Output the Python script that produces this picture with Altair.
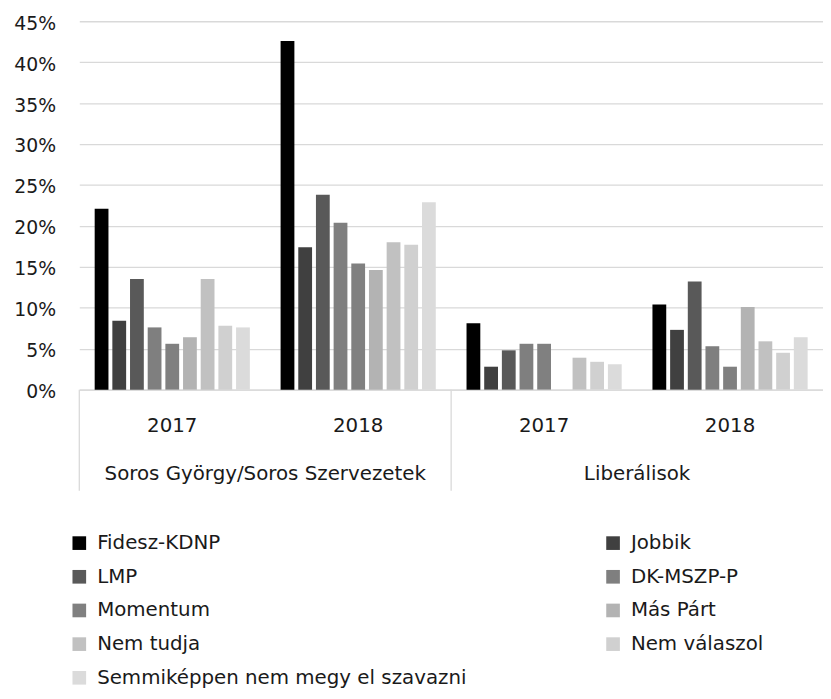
import altair as alt
import pandas as pd

series = ["Fidesz-KDNP", "Jobbik", "LMP", "DK-MSZP-P", "Momentum", "Más Párt",
          "Nem tudja", "Nem válaszol", "Semmiképpen nem megy el szavazni"]
colors = ["#000000", "#404040", "#595959", "#7f7f7f", "#808080", "#b3b3b3",
          "#c1c1c1", "#d0d0d0", "#dbdbdb"]

categories = ["Soros György/Soros Szervezetek", "Liberálisok"]
years = ["2017", "2018"]

soros_2017 = [22.1, 8.4, 13.5, 7.6, 5.6, 6.4, 13.5, 7.8, 7.6]
soros_2018 = [42.6, 17.4, 23.8, 20.4, 15.4, 14.6, 18.0, 17.7, 22.9]
lib_2017 = [8.1, 2.8, 4.8, 5.6, 5.6, None, 3.9, 3.4, 3.1]
lib_2018 = [10.4, 7.3, 13.2, 5.3, 2.8, 10.1, 5.9, 4.5, 6.4]

y_ticks = [0, 5, 10, 15, 20, 25, 30, 35, 40, 45]

blocks = [(categories[0], years[0], soros_2017), (categories[0], years[1], soros_2018),
          (categories[1], years[0], lib_2017), (categories[1], years[1], lib_2018)]
rows = []
grp_order = []
for cat, yr, vals in blocks:
    g = f"{cat}|{yr}"
    grp_order.append(g)
    for s, v in zip(series, vals):
        if v is not None:
            rows.append({"grp": g, "series": s, "value": v})
df = pd.DataFrame(rows)

cat_df = pd.DataFrame({"cat": categories, "pos": [0.5, 1.5]})
sep_df = pd.DataFrame({"sep": [0, 1]})

FONT = "DejaVu Sans"
GRID = "#d9d9d9"
W, H = 751, 372

bars = alt.Chart(df).mark_bar().encode(
    x=alt.X("grp:N", sort=grp_order, title=None,
            scale=alt.Scale(paddingInner=0, paddingOuter=0),
            axis=alt.Axis(labelExpr="split(datum.label, '|')[1]", labelAngle=0,
                          ticks=False, labelPadding=26, labelFont=FONT,
                          labelFontSize=20, labelColor="#1a1a1a",
                          domainColor=GRID, domainWidth=1.3, grid=False)),
    xOffset=alt.XOffset("series:N", sort=series,
                        scale=alt.Scale(paddingInner=0.22, paddingOuter=0.87)),
    y=alt.Y("value:Q", title=None,
            scale=alt.Scale(domain=[0, 45], nice=False),
            axis=alt.Axis(values=y_ticks, labelExpr="datum.value + '%'",
                          ticks=False, domain=False, labelPadding=24,
                          labelOffset=2,
                          labelFont=FONT, labelFontSize=19, labelColor="#1a1a1a",
                          gridColor=GRID, gridWidth=1.3)),
    color=alt.Color("series:N", sort=series,
                    scale=alt.Scale(domain=series, range=colors),
                    legend=alt.Legend(orient="none", legendX=-10, legendY=517,
                                      direction="horizontal",
                                      columns=2, columnPadding=137, rowPadding=14,
                                      symbolType="square", symbolSize=190,
                                      symbolStrokeWidth=0, labelOffset=8,
                                      labelFont=FONT, labelFontSize=20,
                                      labelColor="#1a1a1a", labelLimit=0,
                                      title=None, padding=0)),
)

cat_text = alt.Chart(cat_df).mark_text(
    font=FONT, fontSize=20, color="#1a1a1a", baseline="top", align="center"
).encode(
    x=alt.X("pos:Q", scale=alt.Scale(domain=[0, 2], nice=False), axis=None),
    y=alt.value(447),
    text="cat:N",
)

seps = alt.Chart(sep_df).mark_rule(color=GRID, strokeWidth=1.3).encode(
    x=alt.X("sep:Q", scale=alt.Scale(domain=[0, 2], nice=False), axis=None),
    y=alt.value(H),
    y2=alt.value(474),
)

chart = alt.layer(bars, seps, cat_text).resolve_scale(x="independent").properties(
    width=W, height=H,
    autosize=alt.AutoSizeParams(type="none"),
    padding={"left": 72, "top": 10, "right": 0, "bottom": 305},
).configure_view(stroke=None)

chart.save("out.html", embed_options={"renderer": "svg", "actions": False})
